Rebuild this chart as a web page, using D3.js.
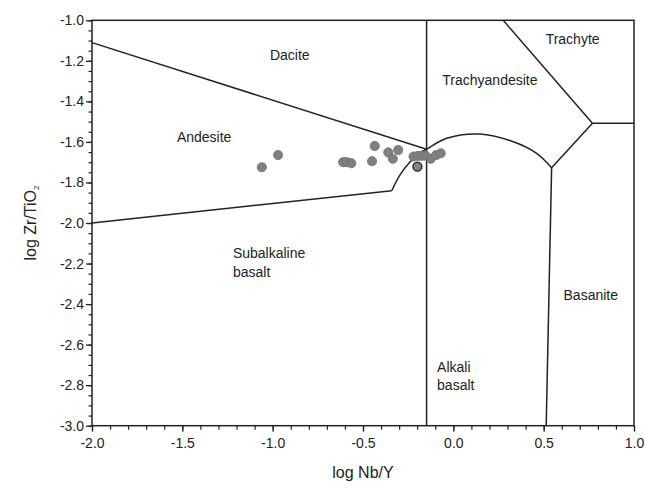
<!DOCTYPE html>
<html>
<head>
<meta charset="utf-8">
<script src="https://cdn.jsdelivr.net/npm/d3@7"></script>
<style>
  html, body { margin: 0; padding: 0; background: #fff; }
  svg { display: block; font-family: "Liberation Sans", Arial, Helvetica, sans-serif; }
  .tick text { fill: #222; }
</style>
</head>
<body>
<svg id="chart" width="645" height="488"></svg>
<script>
// Samples: log Nb/Y vs log Zr/TiO2
const sampleNbY  = [-1.06, -0.97, -0.61, -0.59, -0.565, -0.45, -0.435, -0.36, -0.335, -0.305, -0.22, -0.195, -0.175, -0.155, -0.125, -0.095, -0.07];
const sampleZrTi = [-1.725, -1.665, -1.700, -1.700, -1.705, -1.695, -1.620, -1.652, -1.683, -1.640, -1.672, -1.669, -1.668, -1.668, -1.683, -1.665, -1.656];
// Highlighted sample (darker outline)
const markedNbY  = [-0.199];
const markedZrTi = [-1.722];

// Axis ticks
const xMajorTicks = [-2.0, -1.5, -1.0, -0.5, 0.0, 0.5, 1.0];
const yMajorTicks = [-1.0, -1.2, -1.4, -1.6, -1.8, -2.0, -2.2, -2.4, -2.6, -2.8, -3.0];

// Field boundaries (log Nb/Y, log Zr/TiO2)
const daciteAndesite   = [[-2.0, -1.11], [-0.148, -1.636]];
const andesiteBasalt   = [[-2.0, -2.0], [-0.341, -1.841]];
const alkaliArc        = [[-0.341, -1.841], [-0.295, -1.763], [-0.240, -1.699], [-0.185, -1.655], [-0.148, -1.636],
                          [-0.037, -1.582], [0.148, -1.561], [0.332, -1.599], [0.461, -1.656], [0.544, -1.727]];
const alkaliDivide     = [[-0.148, -1.0], [-0.148, -3.0]];
const basaniteLeft     = [[0.544, -1.727], [0.514, -3.0]];
const trachyBase       = [[0.544, -1.727], [0.770, -1.508]];
const trachyteEdge     = [[0.770, -1.508], [0.276, -1.0]];
const trachyteFloor    = [[0.770, -1.508], [1.0, -1.508]];

// Field names
const fieldNames = ["Dacite", "Trachyte", "Trachyandesite", "Andesite", "Subalkaline", "basalt", "Alkali", "basalt", "Basanite"];
const fieldX     = [-1.015, 0.511, -0.061, -1.530, -1.22, -1.22, -0.09, -0.09, 0.61];
const fieldY     = [-1.196, -1.117, -1.319, -1.600, -2.175, -2.265, -2.735, -2.825, -2.38];

const svg = d3.select("#chart");
const margin = {left: 92, right: 11, top: 20.3, bottom: 62.3};
const W = 645, H = 488;

const x = d3.scaleLinear().domain([-2, 1]).range([margin.left, W - margin.right]);
const y = d3.scaleLinear().domain([-3, -1]).range([H - margin.bottom, margin.top]);

const fmt = d => d.toFixed(1);
const ink = "#222";

// Minor ticks
const xMinor = d3.range(-2, 1.0001, 0.1).map(v => +v.toFixed(2));
const yMinor = d3.range(-3, -0.9999, 0.05).map(v => +v.toFixed(2));

svg.append("g")
  .attr("transform", `translate(0,${y(-3)})`)
  .call(d3.axisBottom(x).tickValues(xMinor).tickSize(4).tickFormat(""))
  .call(g => g.select(".domain").remove())
  .call(g => g.selectAll("line").attr("stroke", ink).attr("stroke-width", 1.2));

svg.append("g")
  .attr("transform", `translate(${x(-2)},0)`)
  .call(d3.axisLeft(y).tickValues(yMinor).tickSize(3.5).tickFormat(""))
  .call(g => g.select(".domain").remove())
  .call(g => g.selectAll("line").attr("stroke", ink).attr("stroke-width", 1.2));

// Major ticks with labels
svg.append("g")
  .attr("transform", `translate(0,${y(-3)})`)
  .call(d3.axisBottom(x).tickValues(xMajorTicks).tickSize(6).tickPadding(6).tickFormat(fmt))
  .call(g => g.select(".domain").remove())
  .call(g => g.selectAll("line").attr("stroke", ink).attr("stroke-width", 1.3))
  .call(g => g.selectAll("text").attr("font-size", 14).attr("font-family", "Liberation Sans, Arial, sans-serif"));

svg.append("g")
  .attr("transform", `translate(${x(-2)},0)`)
  .call(d3.axisLeft(y).tickValues(yMajorTicks).tickSize(6).tickPadding(2).tickFormat(fmt))
  .call(g => g.select(".domain").remove())
  .call(g => g.selectAll("line").attr("stroke", ink).attr("stroke-width", 1.3))
  .call(g => g.selectAll("text").attr("font-size", 14).attr("font-family", "Liberation Sans, Arial, sans-serif"));

// Plot frame
svg.append("rect")
  .attr("x", x(-2)).attr("y", y(-1))
  .attr("width", x(1) - x(-2)).attr("height", y(-3) - y(-1))
  .attr("fill", "none").attr("stroke", ink).attr("stroke-width", 1.5);

// Boundaries
const straight = d3.line().x(d => x(d[0])).y(d => y(d[1]));
const smooth = d3.line().x(d => x(d[0])).y(d => y(d[1])).curve(d3.curveCatmullRom.alpha(0.5));

const boundaries = svg.append("g").attr("fill", "none").attr("stroke", ink).attr("stroke-width", 1.5)
  .attr("stroke-linejoin", "round");
[daciteAndesite, andesiteBasalt, alkaliDivide, basaniteLeft, trachyBase, trachyteEdge, trachyteFloor]
  .forEach(seg => boundaries.append("path").attr("d", straight(seg)));
boundaries.append("path").attr("d", smooth(alkaliArc));

// Field names
svg.append("g")
  .attr("font-size", 14).attr("fill", ink)
  .selectAll("text")
  .data(fieldNames)
  .join("text")
  .attr("x", (d, i) => x(fieldX[i]))
  .attr("y", (d, i) => y(fieldY[i]))
  .text(d => d);

// Samples
svg.append("g")
  .selectAll("circle")
  .data(sampleNbY.map((v, i) => [v, sampleZrTi[i]]))
  .join("circle")
  .attr("cx", d => x(d[0])).attr("cy", d => y(d[1]))
  .attr("r", 4.6)
  .attr("fill", "#808080").attr("stroke", "#6e6e6e").attr("stroke-width", 0.8);

svg.append("g")
  .selectAll("circle")
  .data(markedNbY.map((v, i) => [v, markedZrTi[i]]))
  .join("circle")
  .attr("cx", d => x(d[0])).attr("cy", d => y(d[1]))
  .attr("r", 4.4)
  .attr("fill", "#858585").attr("stroke", "#2a2a2a").attr("stroke-width", 1.5);

// Axis titles
svg.append("text")
  .attr("x", (x(-2) + x(1)) / 2).attr("y", 478)
  .attr("text-anchor", "middle").attr("font-size", 16).attr("fill", ink)
  .text("log Nb/Y");

const yTitle = svg.append("text")
  .attr("transform", `translate(36,${(y(-1) + y(-3)) / 2}) rotate(-90)`)
  .attr("text-anchor", "middle").attr("font-size", 16).attr("fill", ink);
yTitle.append("tspan").text("log Zr/TiO");
yTitle.append("tspan").attr("font-size", 8).attr("dy", 3).text("2");
</script>
</body>
</html>
